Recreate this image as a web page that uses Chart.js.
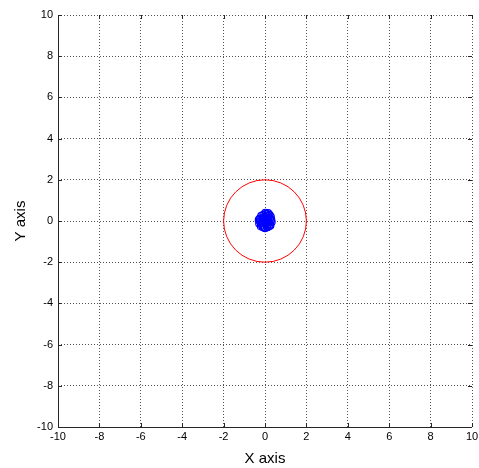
<!DOCTYPE html>
<html>
<head>
<meta charset="utf-8">
<script src="https://cdn.jsdelivr.net/npm/chart.js@4.4.0/dist/chart.umd.min.js"></script>
<style>
    html, body { margin: 0; padding: 0; background: #fff; }
    #wrap { width: 479px; height: 468px; }
</style>
</head>
<body>
<div id="wrap"><canvas id="plot"></canvas></div>
<script>
// Axis ticks
const xTicks = [-10, -8, -6, -4, -2, 0, 2, 4, 6, 8, 10];
const yTicks = [-10, -8, -6, -4, -2, 0, 2, 4, 6, 8, 10];

// Blue cluster
const blueX = [0.00, 0.15, -0.15, 0.25, -0.25, 0.05, -0.05, 0.30, -0.28, 0.18, -0.18, 0.02, 0.10, -0.10, 0.28, -0.02, 0.00, 0.20, -0.22, 0.08, 0.32,
               -0.12, 0.12, 0.22, -0.30, 0.05, -0.08, 0.15, 0.26, -0.20, 0.10, -0.05, 0.00, 0.18, -0.15, 0.08, -0.10, 0.24, -0.24, 0.12];
const blueY = [0.00, 0.15, -0.08, -0.15, 0.12, 0.35, -0.28, 0.05, -0.12, 0.28, 0.25, 0.40, -0.22, -0.30, 0.20, 0.18, -0.35, -0.25, 0.00, 0.08, -0.05,
               0.05, -0.02, 0.30, 0.05, -0.15, 0.30, 0.38, -0.22, -0.25, -0.10, 0.08, 0.20, -0.05, -0.18, 0.25, 0.15, 0.10, -0.02, -0.30];

// Red circle: centre and radius in data units
const circleCenter = [0, 0];
const circleRadius = 2;

const bluePoints = blueX.map((x, i) => ({ x: x, y: blueY[i] }));

// red circle + solid left/bottom axis lines with inward ticks
const extrasPlugin = {
    id: 'extras',
    afterDatasetsDraw(chart) {
        const { ctx, chartArea: a, scales: { x, y } } = chart;
        const cx = x.getPixelForValue(circleCenter[0]);
        const cy = y.getPixelForValue(circleCenter[1]);
        const rx = Math.abs(x.getPixelForValue(circleCenter[0] + circleRadius) - cx);
        const ry = Math.abs(y.getPixelForValue(circleCenter[1] + circleRadius) - cy);
        ctx.save();
        ctx.strokeStyle = '#ff0000';
        ctx.lineWidth = 1;
        ctx.beginPath();
        ctx.ellipse(cx, cy, rx, ry, 0, 0, Math.PI * 2);
        ctx.stroke();

        ctx.strokeStyle = '#262626';
        ctx.beginPath();
        ctx.moveTo(Math.round(a.left) + 0.5, a.top);
        ctx.lineTo(Math.round(a.left) + 0.5, Math.round(a.bottom) + 0.5);
        ctx.lineTo(a.right, Math.round(a.bottom) + 0.5);
        xTicks.forEach(v => {
            const px = Math.round(x.getPixelForValue(v)) + 0.5;
            ctx.moveTo(px, a.bottom); ctx.lineTo(px, a.bottom - 4);
            ctx.moveTo(px, a.top); ctx.lineTo(px, a.top + 4);
        });
        yTicks.forEach(v => {
            const py = Math.round(y.getPixelForValue(v)) + 0.5;
            ctx.moveTo(a.left, py); ctx.lineTo(a.left + 4, py);
            ctx.moveTo(a.right, py); ctx.lineTo(a.right - 4, py);
        });
        ctx.stroke();
        ctx.restore();
    }
};

const gridStyle = {
    color: '#555',
    lineWidth: 1,
    drawTicks: false
};

new Chart(document.getElementById('plot'), {
    type: 'scatter',
    data: {
        datasets: [{
            data: bluePoints,
            borderColor: '#0000ff',
            backgroundColor: 'rgba(0,0,0,0)',
            borderWidth: 1.2,
            pointRadius: 3.5,
            showLine: false
        }]
    },
    options: {
        responsive: true,
        maintainAspectRatio: false,
        animation: false,
        layout: { padding: { top: 15, right: 7, left: 0, bottom: 0 } },
        plugins: { legend: { display: false }, tooltip: { enabled: false } },
        scales: {
            x: {
                type: 'linear', min: -10, max: 10,
                afterBuildTicks: s => { s.ticks = xTicks.map(v => ({ value: v })); },
                afterFit: s => { s.height = 41; s.paddingRight = 0; s.paddingLeft = 0; },
                grid: Object.assign({}, gridStyle),
                border: { display: false, dash: [1, 2] },
                ticks: { color: '#000', font: { family: 'Liberation Sans', size: 11 }, padding: 3, maxRotation: 0 },
                title: { display: true, text: 'X axis', color: '#000', font: { family: 'Liberation Sans', size: 15 }, padding: { top: 2, bottom: 0 } }
            },
            y: {
                type: 'linear', min: -10, max: 10,
                afterBuildTicks: s => { s.ticks = yTicks.map(v => ({ value: v })); },
                afterFit: s => { s.width = 58; },
                grid: Object.assign({}, gridStyle),
                border: { display: false, dash: [1, 2] },
                ticks: { color: '#000', font: { family: 'Liberation Sans', size: 11 }, padding: 5 },
                title: { display: true, text: 'Y axis', color: '#000', font: { family: 'Liberation Sans', size: 15 }, padding: { top: 12, bottom: 0 } }
            }
        }
    },
    plugins: [extrasPlugin]
});
</script>
</body>
</html>
